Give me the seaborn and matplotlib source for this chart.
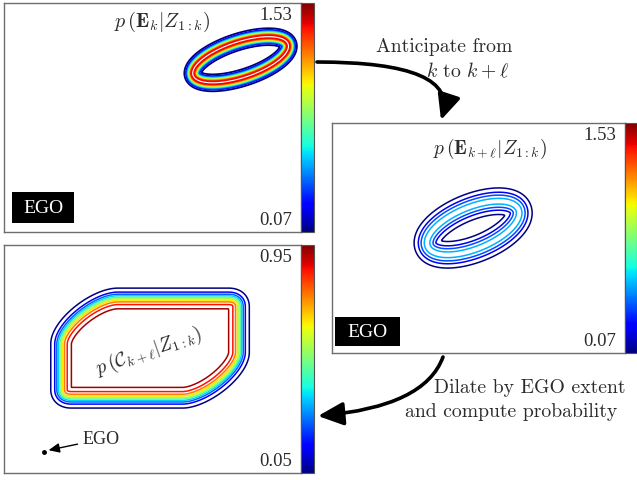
import numpy as np
import matplotlib
matplotlib.use("Agg")
import matplotlib.pyplot as plt
import seaborn as sns
from matplotlib.colors import Normalize
from matplotlib.cm import ScalarMappable
from matplotlib.path import Path
from matplotlib.patches import Rectangle, FancyArrowPatch

# world frame shared by all three panels
world_x = [0.0, 30.0]
world_y = [0.0, 23.0]

# ring-shaped extent density: [time k, anticipated time k + l]
ring_center_x = [23.9, 14.45]
ring_center_y = [17.3, 12.5]
ring_major = [5.05, 5.0]
ring_minor = [1.8, 2.1]
ring_angle_deg = [18.0, 21.5]
ring_spread = [0.34, 0.65]
ring_peak = [1.53, 0.56]
density_levels = [0.07, 0.216, 0.362, 0.508, 0.654, 0.80, 0.946, 1.092, 1.238, 1.384]

# collision probability: credible core of the anticipated extent dilated by the ego box
core_center = [14.75, 12.6]
core_axes = [4.1, 1.75]
core_angle_deg = 36.0
ego_half_extent = [5.6, 2.3]
collision_edge = 0.33
p_exist = 0.95
collision_levels = [0.05, 0.15, 0.25, 0.35, 0.45, 0.55, 0.65, 0.75, 0.85, 0.92]
ego_position = [4.0, 2.1]

sns.set_theme(style="white")
plt.rcParams["font.family"] = ["Liberation Serif", "DejaVu Serif"]
plt.rcParams["mathtext.fontset"] = "cm"
jet = matplotlib.colormaps["jet"]
ink = "#2b2b2b"

W, H = 637, 480
fig = plt.figure(figsize=(W / 100, H / 100), dpi=100)
fig.patch.set_facecolor("white")


def fx(x):
    return x / W


def fy(y):
    return 1 - y / H


def add_px_axes(x0, y0, x1, y1):
    return fig.add_axes([x0 / W, 1 - y1 / H, (x1 - x0) / W, (y1 - y0) / H])


gx = np.linspace(world_x[0], world_x[1], 331)
gy = np.linspace(world_y[0], world_y[1], 254)
X, Y = np.meshgrid(gx, gy)
grid = np.column_stack([X.ravel(), Y.ravel()])


def ellipse_outline(cx, cy, a, b, ang_deg, n=900):
    """Boundary points of a rotated ellipse and their outward normals."""
    t = np.linspace(0, 2 * np.pi, n, endpoint=False)
    th = np.deg2rad(ang_deg)
    c, s = np.cos(th), np.sin(th)
    u, v = a * np.cos(t), b * np.sin(t)
    nu, nv = np.cos(t) / a, np.sin(t) / b
    pts = np.column_stack([cx + u * c - v * s, cy + u * s + v * c])
    nrm = np.column_stack([nu * c - nv * s, nu * s + nv * c])
    return pts, nrm


def densify(poly, step=0.04):
    out = []
    nxt = np.roll(poly, -1, axis=0)
    for p, q in zip(poly, nxt):
        k = max(1, int(np.ceil(np.hypot(*(q - p)) / step)))
        f = np.arange(k)[:, None] / k
        out.append(p + f * (q - p))
    return np.vstack(out)


def signed_distance(poly):
    pts = densify(poly)
    best = np.full(len(grid), np.inf)
    for j in range(0, len(pts), 64):
        chunk = pts[j:j + 64]
        d2 = ((grid[:, None, :] - chunk[None, :, :]) ** 2).sum(-1).min(1)
        best = np.minimum(best, d2)
    d = np.sqrt(best)
    inside = Path(poly).contains_points(grid)
    d[inside] *= -1
    return d.reshape(X.shape)


def ring_density(i):
    pts, _ = ellipse_outline(ring_center_x[i], ring_center_y[i], ring_major[i],
                             ring_minor[i], ring_angle_deg[i])
    d = signed_distance(pts)
    return ring_peak[i] * np.exp(-d ** 2 / (2 * ring_spread[i] ** 2))


dens_k = ring_density(0)
dens_kl = ring_density(1)

# Minkowski sum of the core ellipse with the ego rectangle
pts, nrm = ellipse_outline(core_center[0], core_center[1], core_axes[0],
                           core_axes[1], core_angle_deg)
corner = np.column_stack([np.sign(nrm[:, 0]) * ego_half_extent[0],
                          np.sign(nrm[:, 1]) * ego_half_extent[1]])
d_dil = signed_distance(pts + corner)
collision = p_exist / (1.0 + np.exp(np.clip(d_dil / collision_edge, -60, 60)))

dens_norm = Normalize(vmin=density_levels[0], vmax=float(dens_k.max()))
coll_norm = Normalize(vmin=collision_levels[0], vmax=float(collision.max()))

panels = [
    dict(box=(4, 3, 301, 232), cbar=(301, 3, 314, 232), z=dens_k,
         levels=density_levels, norm=dens_norm, lw=1.3),
    dict(box=(332, 123, 625, 353), cbar=(625, 123, 637, 353), z=dens_kl,
         levels=density_levels, norm=dens_norm, lw=1.1),
    dict(box=(4, 245, 301, 473), cbar=(301, 245, 314, 473), z=collision,
         levels=collision_levels, norm=coll_norm, lw=1.1),
]

axes = []
for p in panels:
    ax = add_px_axes(*p["box"])
    ax.set_xlim(world_x)
    ax.set_ylim(world_y)
    ax.set_xticks([])
    ax.set_yticks([])
    ax.set_facecolor("white")
    for s in ax.spines.values():
        s.set_color("#6e6e6e")
        s.set_linewidth(1.0)
    lv = [l for l in p["levels"] if l < p["z"].max()]
    ax.contour(X, Y, p["z"], levels=lv, cmap=jet, norm=p["norm"],
               linewidths=p["lw"])

    cax = add_px_axes(*p["cbar"])
    cb = fig.colorbar(ScalarMappable(norm=p["norm"], cmap=jet), cax=cax)
    cb.set_ticks([])
    cb.outline.set_edgecolor("#555555")
    cb.outline.set_linewidth(0.8)

    hi = f"{p['norm'].vmax:.2f}"
    lo = f"{p['norm'].vmin:.2f}"
    ax.annotate(hi, xy=(1, 1), xycoords="axes fraction", xytext=(-9, -4),
                textcoords="offset pixels", ha="right", va="top",
                fontsize=13.5, color=ink)
    ax.annotate(lo, xy=(1, 0), xycoords="axes fraction", xytext=(-9, 3),
                textcoords="offset pixels", ha="right", va="bottom",
                fontsize=13.5, color=ink)
    axes.append(ax)

# ego markers in the first two panels
for (x0, y0, x1, y1) in [(12, 192, 74, 223), (335, 317, 400, 346)]:
    fig.add_artist(Rectangle((fx(x0), fy(y1)), (x1 - x0) / W, (y1 - y0) / H,
                             transform=fig.transFigure, facecolor="black",
                             edgecolor="none"))
    fig.text(fx((x0 + x1) / 2), fy((y0 + y1) / 2 + 1), "EGO", color="white",
             fontsize=14, ha="center", va="center")

# ego as a point in the collision panel
ax3 = axes[2]
ax3.plot([ego_position[0]], [ego_position[1]], "o", color="black", ms=2.5)
ax3.annotate("EGO", xy=(ego_position[0] + 0.5, ego_position[1] + 0.2),
             xytext=(ego_position[0] + 3.9, ego_position[1] + 1.3),
             fontsize=13, color=ink, va="center", ha="left",
             arrowprops=dict(arrowstyle="-|>,head_length=0.5,head_width=0.22",
                             color="black", lw=1.0, shrinkA=1, shrinkB=0))

# panel formulas
fig.text(fx(162), fy(22), r"$p\,(\mathbf{E}_k|Z_{1:k})$", ha="center",
         va="center", fontsize=14.5, color=ink)
fig.text(fx(490), fy(149), r"$p\,(\mathbf{E}_{k+\ell}|Z_{1:k})$", ha="center",
         va="center", fontsize=14, color=ink)
fig.text(fx(149), fy(351), r"$p\,(\mathcal{C}_{k+\ell}|Z_{1:k})$", ha="center",
         va="center", fontsize=14, color=ink, rotation=19, rotation_mode="anchor")

# step descriptions
cm_font = dict(family="cmr10", fontsize=14.2, color=ink, ha="center", va="center")
fig.text(fx(444), fy(47), "Anticipate from", **cm_font)
fig.text(fx(468), fy(71), r"$k$ to $k+\ell$", **cm_font)
fig.text(fx(530), fy(388), "Dilate by EGO extent", **cm_font)
fig.text(fx(511), fy(412), "and compute probability", **cm_font)

arrow_kw = dict(transform=fig.transFigure, color="black", lw=2.6,
                arrowstyle="-|>,head_length=0.7,head_width=0.32",
                mutation_scale=22, shrinkA=0, shrinkB=0)
fig.add_artist(FancyArrowPatch((fx(317), fy(62)), (fx(441), fy(120)),
                               connectionstyle="angle3,angleA=0,angleB=72",
                               **arrow_kw))
fig.add_artist(FancyArrowPatch((fx(443), fy(357)), (fx(318), fy(416)),
                               connectionstyle="angle3,angleA=70,angleB=5",
                               **arrow_kw))

fig.savefig("out.png", dpi=100, facecolor="white")
